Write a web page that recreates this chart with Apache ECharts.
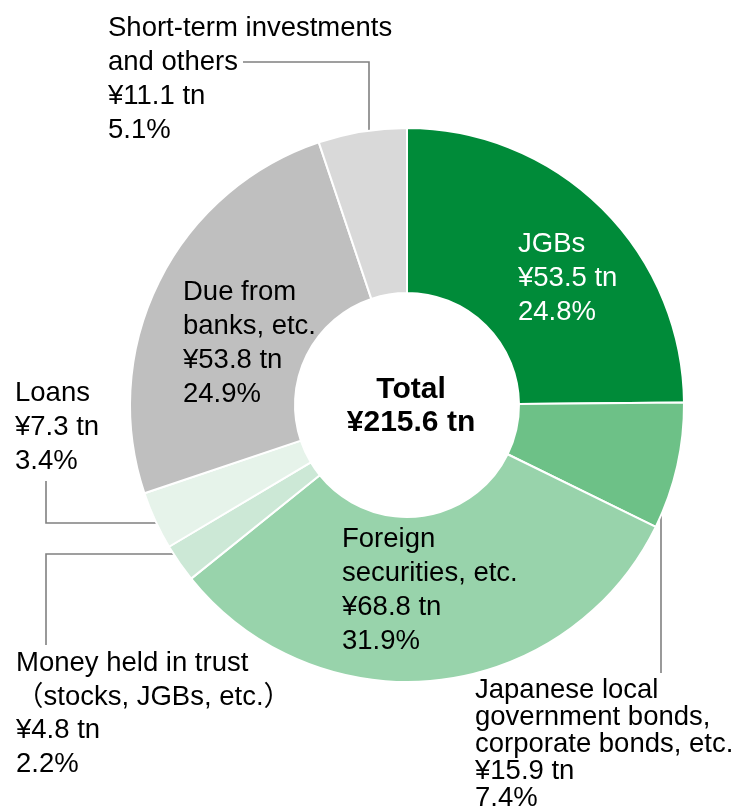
<!DOCTYPE html>
<html>
<head>
<meta charset="utf-8">
<script src="https://cdn.jsdelivr.net/npm/echarts@6/dist/echarts.min.js"></script>
<style>
  html, body { margin: 0; padding: 0; background: #fff; }
  #chart { width: 740px; height: 808px; }
</style>
</head>
<body>
<div id="chart"></div>
<script>
// Asset breakdown, clockwise from 12 o'clock
const categories = [
  'JGBs',
  'Japanese local\ngovernment bonds,\ncorporate bonds, etc.',
  'Foreign\nsecurities, etc.',
  'Money held in trust\n\uFF08stocks, JGBs, etc.\uFF09',
  'Loans',
  'Due from\nbanks, etc.',
  'Short-term investments\nand others'
];
const amounts = [53.5, 15.9, 68.8, 4.8, 7.3, 53.8, 11.1];   // ¥ tn
const shares = ['24.8', '7.4', '31.9', '2.2', '3.4', '24.9', '5.1']; // %
const totalText = ['Total', '¥215.6 tn'];

// styling per slice (same order as categories)
const sliceColors = ['#008B39', '#6DC187', '#98D3AB', '#CCE8D6', '#E6F3EA', '#BFBFBF', '#D9D9D9'];
const textColors = ['#ffffff', '#000', '#000', '#000', '#000', '#000', '#000'];
const insideLabel = [true, false, true, false, false, true, false];
const lineHeights = [34, 27, 34, 33.5, 34, 34, 34];

// label anchors (top-left of text block) and leader lines
const labelSpots = [
  { x: 518, y: 227 },
  { x: 475, y: 677, line: [[661, 512], [661, 590], [661, 673]] },
  { x: 342, y: 522 },
  { x: 16, y: 647, line: [[175, 554], [46, 554], [46, 645]] },
  { x: 15, y: 376, line: [[157, 523], [46, 523], [46, 481]] },
  { x: 183, y: 275 },
  { x: 108, y: 11, line: [[369, 133], [369, 62], [243, 62]] }
];

const FONT = '"Liberation Sans", Arial, "Noto Sans CJK JP", sans-serif';

const chart = echarts.init(document.getElementById('chart'), null, { renderer: 'canvas' });

chart.setOption({
  animation: false,
  backgroundColor: '#ffffff',
  graphic: [{
    type: 'text',
    x: 411,
    y: 406,
    style: {
      text: totalText.join('\n'),
      font: 'bold 30px ' + FONT,
      fill: '#000',
      align: 'center',
      verticalAlign: 'middle',
      lineHeight: 33
    }
  }],
  series: [{
    type: 'pie',
    center: [407, 405],
    radius: [112, 277],
    startAngle: 90,
    clockwise: true,
    silent: true,
    avoidLabelOverlap: false,
    itemStyle: { borderColor: '#ffffff', borderWidth: 2 },
    label: {
      show: true,
      fontFamily: FONT,
      fontSize: 27.5,
      lineHeight: 34,
      align: 'left',
      formatter: function (p) {
        return p.name + '\n¥' + p.value + ' tn\n' + shares[p.dataIndex] + '%';
      }
    },
    labelLine: {
      show: true,
      lineStyle: { color: '#808080', width: 1.6 }
    },
    labelLayout: function (p) {
      const s = labelSpots[p.dataIndex];
      const out = { x: s.x, y: s.y, align: 'left', verticalAlign: 'top', hideOverlap: false };
      if (s.line) out.labelLinePoints = s.line;
      return out;
    },
    data: categories.map(function (name, i) {
      return {
        name: name,
        value: amounts[i],
        itemStyle: { color: sliceColors[i] },
        label: {
          position: insideLabel[i] ? 'inside' : 'outside',
          color: textColors[i],
          lineHeight: lineHeights[i]
        },
        labelLine: { show: !insideLabel[i] }
      };
    })
  }]
});
</script>
</body>
</html>
